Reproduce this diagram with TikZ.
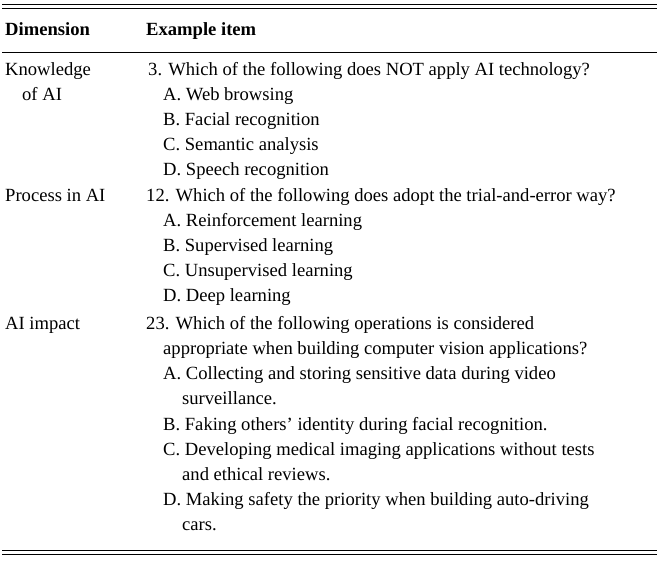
\documentclass[tikz,border=0pt]{standalone}
\usepackage{fontspec}
\setmainfont{Liberation Serif}
\tikzset{
  cell/.style={anchor=base west,inner sep=0pt,font=\fontsize{18.6}{20}\selectfont},
  head/.style={cell,font=\fontsize{18.6}{20}\selectfont\bfseries},
  rule/.style={line width=0.7pt}
}
\begin{document}
\begin{tikzpicture}[x=1pt,y=-1pt]
  \useasboundingbox (0,0) rectangle (659,561);
  % rules
  \draw[rule] (2,4) -- (657,4);
  \draw[rule] (2,8) -- (657,8);
  \draw[rule] (2,52) -- (657,52);
  \draw[rule] (2,550) -- (657,550);
  \draw[rule] (2,554) -- (657,554);
  % header
  \node[head] (hDim) at (5,36) {Dimension};
  \node[head] (hItem) at (146,36) {Example item};
  % row 1
  \node[cell] (dKnow) at (5,76) {Knowledge};
  \node[cell] (dKnow2) at (22,101) {of AI};
  \node[cell] (q3) at (148,76) {3. Which of the following does NOT apply AI technology?};
  \foreach \t [count=\i] in {A. Web browsing,B. Facial recognition,C. Semantic analysis,D. Speech recognition}
    \node[cell] (q3o\i) at (163,76+25*\i) {\t};
  % row 2
  \node[cell] (dProc) at (5,202) {Process in AI};
  \node[cell] (q12) at (146,202) {12. Which of the following does adopt the trial-and-error way?};
  \foreach \t [count=\i] in {A. Reinforcement learning,B. Supervised learning,C. Unsupervised learning,D. Deep learning}
    \node[cell] (q12o\i) at (163,202+25*\i) {\t};
  % row 3
  \node[cell] (dImp) at (5,330) {AI impact};
  \node[cell] (q23) at (146,330) {23. Which of the following operations is considered};
  \node[cell] (q23b) at (163,355) {appropriate when building computer vision applications?};
  \node[cell] (q23a) at (163,380) {A. Collecting and storing sensitive data during video};
  \node[cell] (q23a2) at (182,405) {surveillance.};
  \node[cell] (q23bb) at (163,430) {B. Faking others' identity during facial recognition.};
  \node[cell] (q23c) at (163,455) {C. Developing medical imaging applications without tests};
  \node[cell] (q23c2) at (182,480) {and ethical reviews.};
  \node[cell] (q23d) at (163,505) {D. Making safety the priority when building auto-driving};
  \node[cell] (q23d2) at (182,530) {cars.};
\end{tikzpicture}
\end{document}
